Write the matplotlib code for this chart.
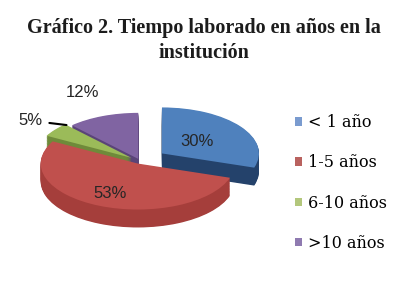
import numpy as np
import matplotlib
matplotlib.use("Agg")
import matplotlib.pyplot as plt
from matplotlib.patches import Patch

# datos
categorias = ["< 1 año", "1-5 años", "6-10 años", ">10 años"]
valores = [30, 53, 5, 12]
etiquetas = ["30%", "53%", "5%", "12%"]

# estilo
colores = ["#4f81bd", "#c0504d", "#9bbb59", "#8064a2"]
colores_lado = ["#24426b", "#a53e3b", "#6f8a3a", "#5a4478"]
colores_leyenda = ["#7a9bcf", "#b9625f", "#b3c77c", "#8f7ab0"]
explode = [0.28, 0.06, 0.11, 0.05]
dist_etiqueta = [0.45, 0.72, 1.32, 1.56]

fig = plt.figure(figsize=(4.07, 2.81), dpi=100)
ax = fig.add_axes([0, 0, 280 / 407, 1])

# 3D simulado: apilar capas de la tarta hacia abajo
prof = 0.39
for k in np.linspace(-prof, 0, 25)[:-1]:
    ax.pie(valores, explode=explode, colors=colores_lado, startangle=90,
           counterclock=False, center=(0, k), wedgeprops=dict(linewidth=0))
cunas, _ = ax.pie(valores, explode=explode, colors=colores, startangle=90,
                  counterclock=False, center=(0, 0), wedgeprops=dict(linewidth=0))

ax.set_aspect("auto")
ax.set_xlim(-140 / 97, 140 / 97)
ax.set_ylim(-(281 - 161) / 46, 161 / 46)
ax.axis("off")

# etiquetas de porcentaje
for i, w in enumerate(cunas):
    ang = np.deg2rad((w.theta1 + w.theta2) / 2)
    cx, cy = w.center
    tx = cx + dist_etiqueta[i] * np.cos(ang)
    ty = cy + dist_etiqueta[i] * np.sin(ang)
    if i == 2:
        # línea guía hacia la punta superior de la porción
        a1 = np.deg2rad(w.theta1)
        ax.annotate(etiquetas[i], xy=(cx + 0.98 * np.cos(a1), cy + 0.98 * np.sin(a1)),
                    xytext=(tx, ty), ha="center", va="center",
                    fontsize=12, family="Liberation Sans", color="#262626",
                    arrowprops=dict(arrowstyle="-", color="black", lw=1.5,
                                    shrinkA=3, shrinkB=0))
    else:
        ax.text(tx, ty, etiquetas[i], ha="center", va="center",
                fontsize=12, family="Liberation Sans", color="#262626")

# leyenda
handles = [Patch(facecolor=c, edgecolor="none") for c in colores_leyenda]
fig.legend(handles, categorias, loc="upper left", bbox_to_anchor=(284 / 407, 1 - 103 / 281),
           frameon=False, handlelength=0.45, handleheight=0.45, handletextpad=0.35,
           labelspacing=1.45, borderpad=0.2,
           prop=dict(family="DejaVu Serif", size=11.5))

fig.text(0.5, 1 - 18 / 281, "Gráfico 2. Tiempo laborado en años en la\ninstitución",
         ha="center", va="top", fontsize=14.5, fontweight="bold",
         family="Liberation Serif", color="#1c1c1c", linespacing=1.3)

fig.savefig("out.png", dpi=100)
